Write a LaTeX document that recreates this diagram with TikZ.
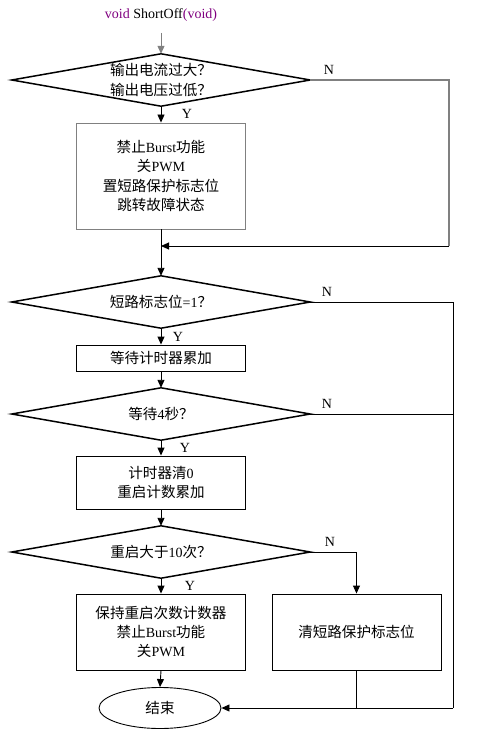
\documentclass[tikz,border=0pt]{standalone}
\usepackage{fontspec}
\setmainfont{Liberation Serif}
\newfontfamily\cjk[Scale=1.04]{Noto Sans CJK SC}
\usetikzlibrary{shapes.geometric,arrows.meta}
\definecolor{vpurple}{RGB}{128,0,128}
\definecolor{lgray}{RGB}{128,128,128}
\begin{document}
\begin{tikzpicture}[x=1pt,y=-1pt,
  font=\fontsize{14}{19.3}\selectfont,
  decbox/.style={rectangle, minimum width=298pt, minimum height=52pt, inner sep=0pt, align=center},
  decline/.style={line width=1.5pt, draw=black, line join=miter},
  proc/.style={rectangle, draw=black, line width=0.9pt, minimum width=169pt, inner sep=0pt, align=center},
  term/.style={ellipse, draw=black, line width=0.9pt, minimum width=122pt, minimum height=41pt, inner sep=0pt},
  arr/.style={-{Triangle[length=8pt,width=7pt]}, line width=0.9pt},
  conn/.style={line width=0.9pt},
  gconn/.style={line width=1.5pt, draw=lgray},
  yn/.style={inner sep=0pt, font=\fontsize{14}{14}\selectfont}
]
\useasboundingbox (0,0) rectangle (495,741);

% title
\node[inner sep=0pt] (title) at (161,15) {{\color{vpurple}void} ShortOff{\color{vpurple}(void)}};
\coordinate (start) at (161,33);

% nodes
\node[decbox] (d1) at (161,80) {{\cjk 输出电流过大？}\\{\cjk 输出电压过低？}};
\node[proc, draw=lgray, minimum height=106pt] (b1) at (161,176) {{\cjk 禁止}Burst{\cjk 功能}\\{\cjk 关}PWM\\{\cjk 置短路保护标志位}\\{\cjk 跳转故障状态}};
\coordinate (j1) at (161,246);
\coordinate (r1a) at (449,80);
\coordinate (r1) at (449,246);

\node[decbox] (d2) at (161,302) {{\cjk 短路标志位}=1{\cjk ？}};
\node[proc, minimum height=26pt] (b2) at (161,358) {\cjk 等待计时器累加};
\node[decbox] (d3) at (161,414) {{\cjk 等待}4{\cjk 秒？}};
\node[proc, minimum height=53pt] (b3) at (161,482.5) {{\cjk 计时器清}0\\{\cjk 重启计数累加}};
\node[decbox] (d4) at (161,552) {{\cjk 重启大于}10{\cjk 次？}};
\node[proc, minimum height=76pt] (b4) at (161,632) {{\cjk 保持重启次数计数器}\\{\cjk 禁止}Burst{\cjk 功能}\\{\cjk 关}PWM};
\node[proc, minimum height=76pt] (b5) at (356.5,632) {\cjk 清短路保护标志位};
\node[term] (end) at (160,708) {\cjk 结束};

% diamond outlines
\foreach \d in {d1,d2,d3,d4}
  \draw[decline] (\d.north) -- (\d.east) -- (\d.south) -- (\d.west) -- cycle;

\coordinate (r2a) at (453,302);
\coordinate (r2b) at (453,414);
\coordinate (r2) at (453,708);
\coordinate (c5) at (356.5,708);

% Y / N labels
\node[yn] (y1) at (187,114) {Y};
\node[yn] (n1) at (329,70) {N};
\node[yn] (y2) at (178,337) {Y};
\node[yn] (n2) at (327,292) {N};
\node[yn] (y3) at (185,448) {Y};
\node[yn] (n3) at (327,404) {N};
\node[yn] (y4) at (190,586) {Y};
\node[yn] (n4) at (330,542) {N};

% connectors
\draw[arr, draw=lgray] (start) -- (d1.north);
\draw[arr] (d1.south) -- (b1.north);
\draw[gconn] (d1.east) -- (r1a) -- (r1);
\draw[arr] (r1) -- (j1);
\draw[conn] (b1.south) -- (j1);
\draw[arr] (j1) -- (d2.north);

\draw[arr] (d2.south) -- (b2.north);
\draw[arr] (b2.south) -- (d3.north);
\draw[arr] (d3.south) -- (b3.north);
\draw[arr] (b3.south) -- (d4.north);
\draw[arr] (d4.south) -- (b4.north);
\draw[arr] (d4.east) -| (b5.north);
\draw[arr] (b4.south) -- (end.north);

\draw[conn] (d2.east) -- (r2a) -- (r2);
\draw[arr] (r2) -- (end.east);
\draw[conn] (d3.east) -- (r2b);
\draw[conn] (b5.south) -- (c5);
\end{tikzpicture}
\end{document}
